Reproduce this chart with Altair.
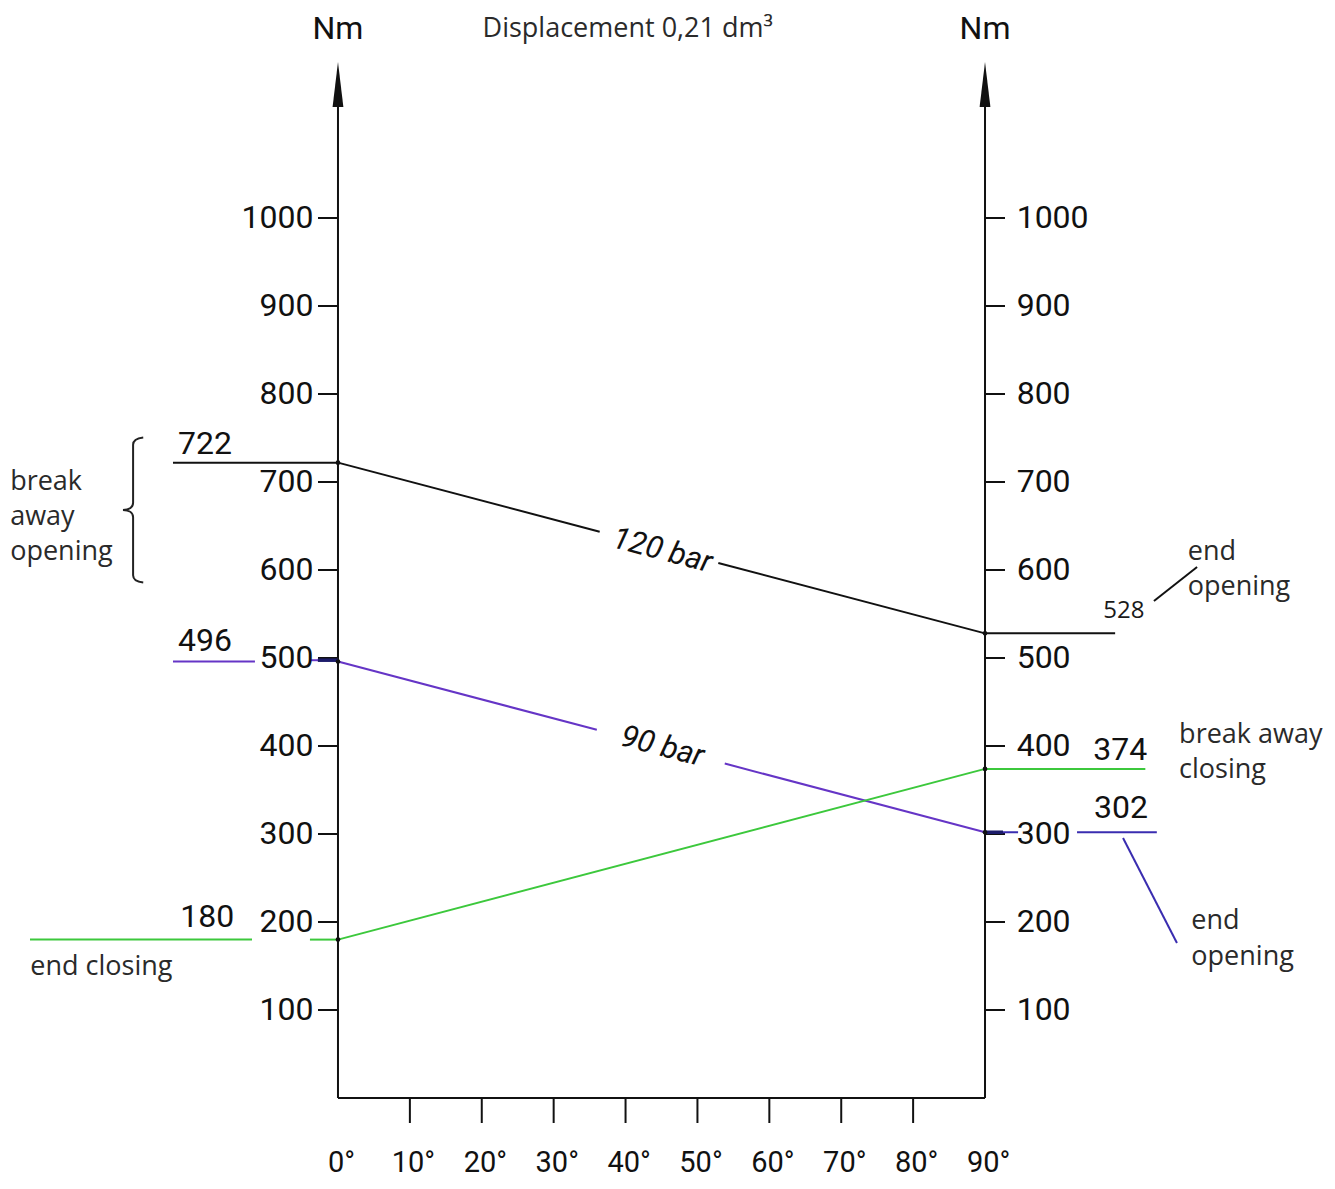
import altair as alt
import pandas as pd

# ---------------- data ----------------
angle_ends = [0, 90]                       # degrees
torque_120bar = [722, 528]                 # Nm, break away opening -> end opening
torque_90bar = [496, 302]                  # Nm
torque_closing = [180, 374]                # Nm, end closing -> break away closing

y_ticks = [100, 200, 300, 400, 500, 600, 700, 800, 900, 1000]
x_ticks = [0, 10, 20, 30, 40, 50, 60, 70, 80, 90]
x_tick_labels = ["0°", "10°", "20°", "30°", "40°", "50°", "60°", "70°", "80°", "90°"]

gap_120 = [36.4, 52.9]   # where the "120 bar" label interrupts the line (deg)
gap_90 = [36.0, 53.8]    # where the "90 bar" label interrupts the line (deg)

# ---------------- layout ----------------
W, H = 1319, 1173
X_DOMAIN = [-45.9, 137.57]
Y_DOMAIN = [-94.32, 1238.64]
NARROW = "Roboto, Liberation Sans Narrow, sans-serif"
HUMAN = "Open Sans, Noto Sans, sans-serif"

BLACK = "#111111"
PURPLE = "#6535c6"
BLUE = "#3a2db0"
NAVY = "#1c1c6a"
GREEN = "#3cc83c"

xs = alt.Scale(domain=X_DOMAIN, nice=False, zero=False)
ys = alt.Scale(domain=Y_DOMAIN, nice=False, zero=False)


def on_line(vals, a):
    return vals[0] + (vals[1] - vals[0]) * (a - angle_ends[0]) / (angle_ends[1] - angle_ends[0])


segs = []


def seg(x, y, x2, y2, c, w=2.0):
    segs.append(dict(x=x, y=y, x2=x2, y2=y2, c=c, w=w))


# axes
y_top = 1126
seg(0, 0, 0, y_top, BLACK, 2)
seg(90, 0, 90, y_top, BLACK, 2)
seg(0, 0, 90, 0, BLACK, 2)
for t in x_ticks[1:-1]:
    seg(t, 0, t, -28.4, BLACK, 2)
for t in y_ticks:
    seg(-2.78, t, 0, t, BLACK, 2)
    seg(90, t, 92.78, t, BLACK, 2)

# 120 bar line (with gap for label)
seg(angle_ends[0], torque_120bar[0], gap_120[0], on_line(torque_120bar, gap_120[0]), BLACK, 2)
seg(gap_120[1], on_line(torque_120bar, gap_120[1]), angle_ends[1], torque_120bar[1], BLACK, 2)
# 90 bar line
seg(angle_ends[0], torque_90bar[0], gap_90[0], on_line(torque_90bar, gap_90[0]), PURPLE, 2)
seg(gap_90[1], on_line(torque_90bar, gap_90[1]), angle_ends[1], torque_90bar[1], PURPLE, 2)
# closing line
seg(angle_ends[0], torque_closing[0], angle_ends[1], torque_closing[1], GREEN, 2)

# reference / leader lines
seg(-22.95, torque_120bar[0], 0, torque_120bar[0], BLACK, 2)
seg(90, torque_120bar[1], 108.1, torque_120bar[1], BLACK, 2)
seg(113.5, 564.8, 119.5, 603.4, BLACK, 2)

seg(-22.95, torque_90bar[0], -11.55, torque_90bar[0], PURPLE, 2)
seg(-3.9, torque_90bar[0] + 1.5, 0, torque_90bar[0] + 1.5, PURPLE, 2)
seg(-2.8, torque_90bar[0] + 1.5, 0, torque_90bar[0] + 1.5, NAVY, 3.5)
seg(90, torque_90bar[1], 94.6, torque_90bar[1], BLUE, 2)
seg(90, torque_90bar[1], 92.5, torque_90bar[1], NAVY, 3.5)
seg(102.8, torque_90bar[1], 113.9, torque_90bar[1], BLUE, 2)
seg(109.2, 295.5, 116.7, 176.1, BLUE, 2)

seg(-42.84, torque_closing[0], -11.96, torque_closing[0], GREEN, 2)
seg(-3.9, torque_closing[0], 0, torque_closing[0], GREEN, 2)
seg(90, torque_closing[1], 112.3, torque_closing[1], GREEN, 2)

seg_df = pd.DataFrame(segs)

rules = alt.Chart(seg_df).mark_rule(strokeCap="butt").encode(
    x=alt.X("x:Q", scale=xs, axis=None),
    y=alt.Y("y:Q", scale=ys, axis=None),
    x2="x2:Q",
    y2="y2:Q",
    color=alt.Color("c:N", scale=None),
    strokeWidth=alt.StrokeWidth("w:Q", scale=None),
)

# end-point dots
dot_df = pd.DataFrame({
    "x": [0, 90, 0, 90, 0, 90],
    "y": [torque_120bar[0], torque_120bar[1], torque_90bar[0], torque_90bar[1],
          torque_closing[0], torque_closing[1]],
})
dots = alt.Chart(dot_df).mark_point(filled=True, size=22, color=BLACK, opacity=1).encode(
    x=alt.X("x:Q", scale=xs, axis=None), y=alt.Y("y:Q", scale=ys, axis=None))

# axis arrows
arrow_df = pd.DataFrame({"x": [0, 90], "y": [1151.7, 1151.7]})
arrows = alt.Chart(arrow_df).mark_point(
    filled=True, size=2025, color=BLACK, opacity=1, strokeWidth=0,
    shape="M0,-1L0.24,1L-0.24,1Z").encode(
    x=alt.X("x:Q", scale=xs, axis=None), y=alt.Y("y:Q", scale=ys, axis=None))

# brace
brace_df = pd.DataFrame({"x": [-28.5], "y": [668.2]})
brace = alt.Chart(brace_df).mark_point(
    filled=False, size=21025, color="#222222", opacity=1, strokeWidth=2,
    shape="M0.14,-1C0.05,-0.99,0,-0.96,0,-0.9L0,-0.1C0,-0.04,-0.05,0,-0.14,0C-0.05,0,0,0.04,0,0.1L0,0.9C0,0.96,0.05,0.99,0.14,1").encode(
    x=alt.X("x:Q", scale=xs, axis=None), y=alt.Y("y:Q", scale=ys, axis=None))

# tick labels
left_lab = pd.DataFrame({"x": [-3.4] * len(y_ticks), "y": y_ticks, "t": [str(v) for v in y_ticks]})
right_lab = pd.DataFrame({"x": [94.4] * len(y_ticks), "y": y_ticks, "t": [str(v) for v in y_ticks]})
bot_lab = pd.DataFrame({"x": [v + 0.5 for v in x_ticks], "y": [-73.9] * len(x_ticks), "t": x_tick_labels})


def txt(df, **kw):
    return alt.Chart(df).mark_text(**kw).encode(
        x=alt.X("x:Q", scale=xs, axis=None), y=alt.Y("y:Q", scale=ys, axis=None), text="t:N")


cad = dict(font=NARROW, fontSize=32, color=BLACK, baseline="middle")
t_left = txt(left_lab, align="right", **cad)
t_right = txt(right_lab, align="left", **cad)
t_bot = txt(bot_lab, align="center", font=NARROW, fontSize=29, color=BLACK, baseline="middle")

# CAD-style value labels
cad_df = pd.DataFrame({
    "x": [0, 90, -18.5, -18.5, -18.2, 108.8, 108.9],
    "y": [1214.8, 1214.8, 743.2, 519.3, 205.7, 395.5, 329.5],
    "t": ["Nm", "Nm", "722", "496", "180", "374", "302"],
})
t_cad = txt(cad_df, align="center", **cad)

bar_df = pd.DataFrame({"x": [45.1, 45.1], "y": [621.6, 398.9], "t": ["120 bar", "90 bar"]})
t_bar = txt(bar_df, align="center", angle=14.7, font=NARROW, fontSize=31, color=BLACK,
            baseline="middle", fontStyle="italic")

# annotation texts
ann_df = pd.DataFrame({
    "x": [-45.6, -45.6, -45.6, -42.8, 118.2, 118.2, 117.0, 117.0, 118.7, 118.7],
    "y": [700, 660.2, 620.5, 148.9, 620.5, 580.7, 412.5, 372.7, 201.1, 160.2],
    "t": ["break", "away", "opening", "end closing", "end", "opening",
          "break away", "closing", "end", "opening"],
})
t_ann = txt(ann_df, align="left", font=HUMAN, fontSize=27, color="#2a2a2a", baseline="middle")

misc_df = pd.DataFrame({"x": [40.3, 109.3], "y": [1215.0, 553.4],
                        "t": ["Displacement 0,21 dm³", "528"]})
t_title = txt(misc_df.iloc[[0]], align="center", font=HUMAN, fontSize=27, color="#2a2a2a",
              baseline="middle")
t_528 = txt(misc_df.iloc[[1]], align="center", font=HUMAN, fontSize=24, color="#1a1a1a",
            baseline="middle")

chart = alt.layer(
    rules, dots, arrows, brace, t_left, t_right, t_bot, t_cad, t_bar, t_ann, t_title, t_528
).properties(
    width=W, height=H, padding=0, background="white",
    autosize=alt.AutoSizeParams(type="none")
).configure_view(stroke=None)

chart.save("out.html", embed_options={"renderer": "svg", "actions": False})
